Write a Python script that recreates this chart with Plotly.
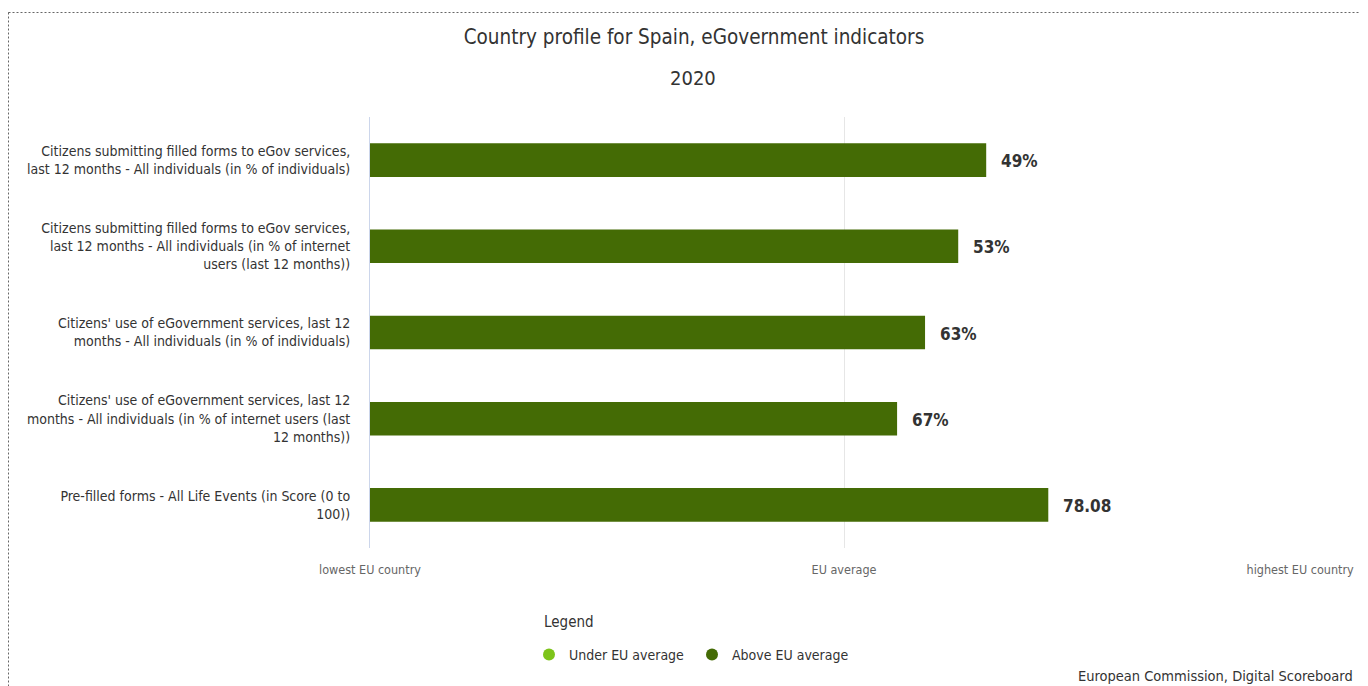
import plotly.graph_objects as go

categories = [
    "Citizens submitting filled forms to eGov services,<br>last 12 months - All individuals (in % of individuals)",
    "Citizens submitting filled forms to eGov services,<br>last 12 months - All individuals (in % of internet<br>users (last 12 months))",
    "Citizens' use of eGovernment services, last 12<br>months - All individuals (in % of individuals)",
    "Citizens' use of eGovernment services, last 12<br>months - All individuals (in % of internet users (last<br>12 months))",
    "Pre-filled forms - All Life Events (in Score (0 to<br>100))",
]
# position on scale: 0 = lowest EU country, 1 = EU average, 2 = highest EU country
scaled_values = [1.300, 1.241, 1.171, 1.112, 1.431]
value_labels = ["49%", "53%", "63%", "67%", "78.08"]
tick_vals = [0, 1, 2]
tick_text = ["lowest EU country", "EU average", "highest EU country"]

FONT = "DejaVu Sans Condensed"
DARK = "#446b05"
LIGHT = "#7dc41a"

OFF = 8  # page body margin
W, H = 1360, 678
L, R, T, B = 362, 50, 109, 138
pw, ph = W - L - R, H - T - B

def px_x(x):
    return (x - OFF - L) / pw

def px_y(y):
    return (H - B - (y - OFF)) / ph

# keep the last tick label inside the page, like the original (shifted left)
shown_ticks = tick_text[:-1] + [tick_text[-1] + "\u00a0" * 10]

fig = go.Figure()
fig.add_trace(go.Bar(
    y=categories, x=scaled_values, orientation="h",
    marker=dict(color=DARK, line=dict(width=0)),
    width=0.39, showlegend=False, hoverinfo="skip",
))
for cat, v, lab in zip(categories, scaled_values, value_labels):
    fig.add_annotation(x=v, y=cat, text=f"<b>{lab}</b>", showarrow=False,
                       xanchor="left", xshift=13, yshift=-1,
                       font=dict(family=FONT, size=17, color="#333333"))

fig.add_trace(go.Scatter(x=[None], y=[None], mode="markers", name="Under EU average",
                         marker=dict(color=LIGHT, size=12, symbol="circle")))
fig.add_trace(go.Scatter(x=[None], y=[None], mode="markers", name="Above EU average",
                         marker=dict(color=DARK, size=12, symbol="circle")))

fig.update_layout(
    width=W, height=H,
    margin=dict(l=L, r=R, t=T, b=B, autoexpand=False),
    paper_bgcolor="white", plot_bgcolor="white",
    font=dict(family=FONT, color="#333333"),
    title=dict(text="Country profile for Spain, eGovernment indicators",
               x=(694 - OFF) / W, xanchor="center", xref="container",
               y=(H - (37 - OFF)) / H, yanchor="middle", yref="container",
               font=dict(family=FONT, size=20.5, color="#333333")),
    xaxis=dict(range=[0, 2], tickvals=tick_vals, ticktext=shown_ticks,
               showgrid=True, gridcolor="#e6e6e6", gridwidth=1, zeroline=False,
               showline=False, tickfont=dict(family=FONT, size=12.5, color="#666666"),
               ticks="", ticklabelstandoff=12, ticklabeloverflow="allow",
               automargin=False, fixedrange=True),
    yaxis=dict(autorange="reversed", showline=True, linecolor="#ccd6eb", linewidth=1,
               showgrid=False, tickfont=dict(family=FONT, size=14, color="#333333"),
               ticks="", ticklabelstandoff=16, automargin=False, fixedrange=True),
    legend=dict(orientation="h", x=px_x(529), xanchor="left", y=px_y(655), yanchor="middle",
                font=dict(family=FONT, size=14, color="#333333"),
                entrywidth=118, entrywidthmode="pixels",
                itemwidth=30, bgcolor="rgba(0,0,0,0)"),
    showlegend=True,
)

fig.add_annotation(text="Legend", xref="paper", yref="paper", x=px_x(542), y=px_y(622),
                   xanchor="left", yanchor="middle", showarrow=False,
                   font=dict(family=FONT, size=15, color="#333333"))
fig.add_annotation(text="2020", xref="paper", yref="paper", x=px_x(693), y=px_y(78),
                   xanchor="center", yanchor="middle", showarrow=False,
                   font=dict(family=FONT, size=20, color="#333333"))
fig.add_annotation(text="European Commission, Digital Scoreboard", xref="paper", yref="paper",
                   x=px_x(1076), y=px_y(686), xanchor="left", yanchor="bottom", showarrow=False,
                   font=dict(family=FONT, size=14.5, color="#333333"))
fig.add_shape(type="rect", xref="paper", yref="paper",
              x0=px_x(8.5), x1=px_x(1400), y0=px_y(12.5), y1=px_y(720),
              line=dict(color="#666666", width=1, dash="2px,2px"), layer="above")

fig.write_html("out.html")
